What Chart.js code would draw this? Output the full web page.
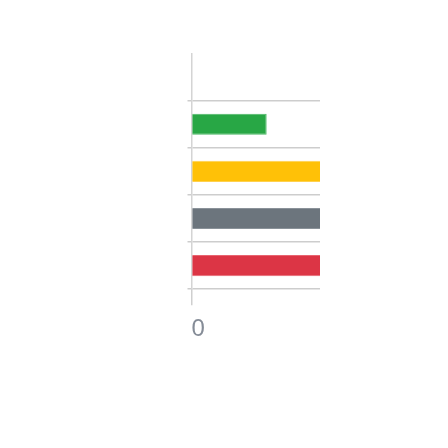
<!DOCTYPE html>
<html>
<head>
<meta charset="utf-8">
<script src="https://cdn.jsdelivr.net/npm/chart.js@4"></script>
<style>
  html, body { margin: 0; padding: 0; background: #fff; }
  #wrap { width: 448px; height: 448px; position: relative; }
</style>
</head>
<body>
<div id="wrap"><canvas id="status-chart"></canvas></div>
<script>
// values; top row is empty, the last three run past the axis max
const categories = ["Total", "Passed", "Warnings", "Skipped", "Failed"];
const counts = [null, 5.85, 12, 12, 12];
const barColors = ["#6c757d", "#28a745", "#ffc107", "#6c757d", "#dc3545"];
const barEdges = ["#8a9299", "#4bb865", "#ffd14d", "#8a9299", "#e86470"];
const xTickValues = [0];
const X_MAX = 10;

Chart.defaults.font.family = "'Helvetica Neue', Helvetica, Arial, 'Liberation Sans', sans-serif";

new Chart(document.getElementById("status-chart"), {
  type: "bar",
  data: {
    labels: categories,
    datasets: [{
      data: counts,
      backgroundColor: barColors,
      borderColor: barEdges,
      borderWidth: 1,
      barPercentage: 0.56,
      categoryPercentage: 0.8,
    }],
  },
  options: {
    indexAxis: "y",
    responsive: true,
    maintainAspectRatio: false,
    animation: false,
    layout: { padding: { top: 53.5, left: 187.5, right: 128, bottom: 94 } },
    plugins: { legend: { display: false }, tooltip: { enabled: false } },
    scales: {
      x: {
        min: 0,
        max: X_MAX,
        afterBuildTicks: (axis) => {
          axis.ticks = axis.ticks.filter((t) => xTickValues.includes(t.value));
        },
        grid: { drawOnChartArea: false, tickLength: 16, color: "#cfcfcf", lineWidth: 1.5 },
        border: { display: false },
        ticks: { color: "#858c97", font: { size: 24 }, align: "start", padding: 10 },
      },
      y: {
        grid: {
          tickLength: 4,
          lineWidth: 1.5,
          color: (ctx) => (ctx.index === 0 ? "rgba(0,0,0,0)" : "#cdcdcd"),
        },
        border: { display: true, color: "#d4d4d4", width: 1.5 },
        ticks: { display: false },
      },
    },
  },
});
</script>
</body>
</html>
